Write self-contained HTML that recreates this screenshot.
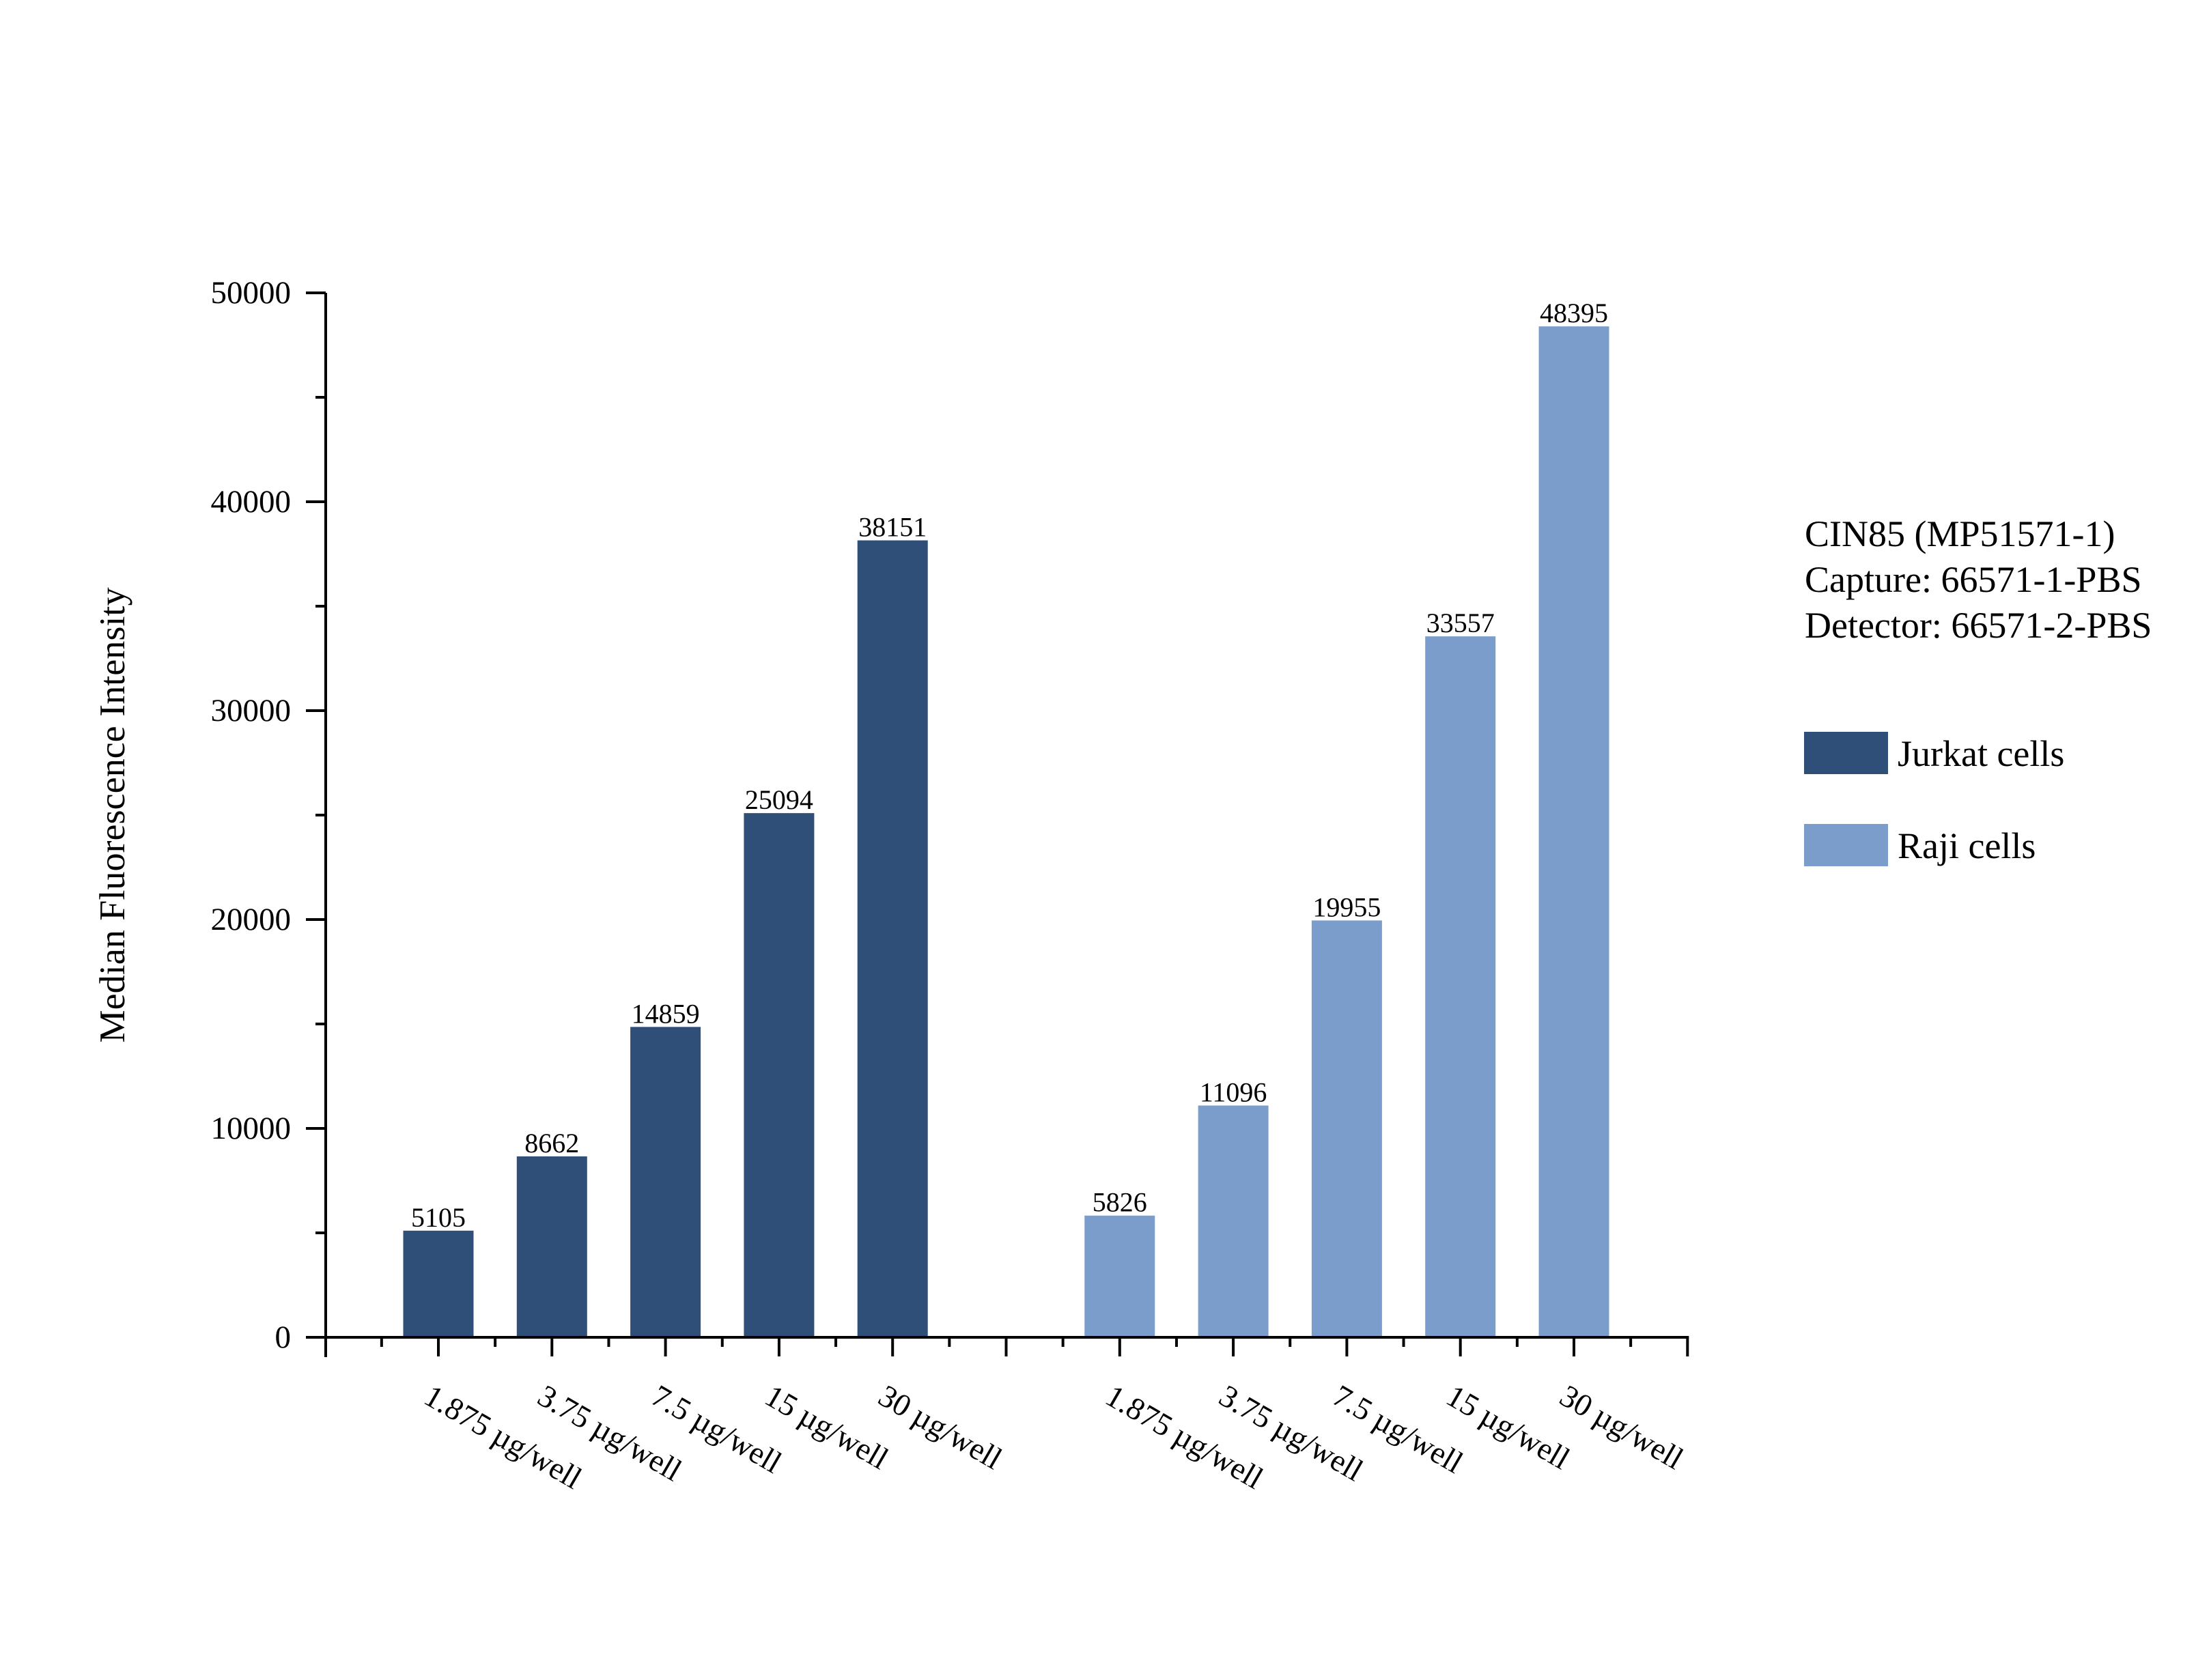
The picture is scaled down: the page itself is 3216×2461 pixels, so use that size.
<!DOCTYPE html>
<html><head><meta charset="utf-8"><style>
html,body{margin:0;padding:0;background:#fff;}
svg{display:block;font-family:"Liberation Serif",serif;}
</style></head><body>
<svg id="chart" width="3216" height="2461" viewBox="0 0 3216 2461" xmlns="http://www.w3.org/2000/svg">
<rect width="3216" height="2461" fill="#fff"/>
<g id="plot"></g>
<text x="0" y="0" transform="translate(182,1194) rotate(-90)" text-anchor="middle" font-size="53" textLength="667" lengthAdjust="spacingAndGlyphs">Median Fluorescence Intensity</text>
<g font-size="54">
<text x="2643" y="800">CIN85 (MP51571-1)</text>
<text x="2643" y="867">Capture: 66571-1-PBS</text>
<text x="2643" y="934">Detector: 66571-2-PBS</text>
<rect x="2642" y="1072" width="123" height="62" fill="#2F4F79"/>
<text x="2779" y="1122">Jurkat cells</text>
<rect x="2642" y="1207" width="123" height="62" fill="#7B9DCB"/>
<text x="2779" y="1257">Raji cells</text>
</g>
</svg>
<script>
const categories = ["1.875 µg/well","3.75 µg/well","7.5 µg/well","15 µg/well","30 µg/well"];
const jurkatValues = [5105, 8662, 14859, 25094, 38151];
const rajiValues = [5826, 11096, 19955, 33557, 48395];
const yTicks = [0, 10000, 20000, 30000, 40000, 50000];

const NS = "http://www.w3.org/2000/svg";
const plot = document.getElementById('plot');
const y0 = 1959, y1 = 429, yMax = 50000;
const yScale = v => y0 - (v / yMax) * (y0 - y1);
const xScale = i => 642 + i * 166.3; // slot index
const axisX = 477, barW = 103;
const axisEnd = xScale(11);

function mk(tag, attrs) {
  const el = document.createElementNS(NS, tag);
  for (const k in attrs) el.setAttribute(k, attrs[k]);
  plot.appendChild(el);
  return el;
}

function drawSeries(vals, offset, color, key) {
  vals.forEach((v, i) => {
    const cx = xScale(i + offset);
    const r = mk('rect', {x: cx - barW/2, y: yScale(v), width: barW, height: y0 - yScale(v), fill: color});
    
    
    const t = mk('text', {x: cx, y: yScale(v) - 6, 'text-anchor': 'middle', 'font-size': 40});
    t.textContent = v;
    
    
    const lx = cx - 24, ly = 2054;
    const xl = mk('text', {x: lx, y: ly, transform: 'rotate(30 ' + lx + ' ' + ly + ')', 'font-size': 46});
    xl.textContent = categories[i];
    
    
  });
}
drawSeries(jurkatValues, 0, '#2F4F79', 'jurkat');
drawSeries(rajiValues, 6, '#7B9DCB', 'raji');

// y axis
const ya = mk('line', {x1: axisX, y1: y1, x2: axisX, y2: y0 + 29, stroke: '#000', 'stroke-width': 4});


yTicks.forEach(v => {
  const ty = yScale(v);
  const tk = mk('line', {x1: axisX - 29, y1: ty, x2: axisX, y2: ty, stroke: '#000', 'stroke-width': 4});
  
  
  const lb = mk('text', {x: 426, y: ty + 15, 'text-anchor': 'end', 'font-size': 47});
  lb.textContent = v;
  
  
  if (v < yMax) {
    const my = yScale(v + 5000);
    const mt = mk('line', {x1: axisX - 15, y1: my, x2: axisX, y2: my, stroke: '#000', 'stroke-width': 4});
    
    
  }
});
// x axis
const xa = mk('line', {x1: axisX - 2, y1: y0, x2: axisEnd + 2, y2: y0, stroke: '#000', 'stroke-width': 4});


for (let i = -1; i <= 11; i++) {
  const tx = i === -1 ? axisX : xScale(i);
  if (i > -1) {
    const t = mk('line', {x1: tx, y1: y0, x2: tx, y2: y0 + 28, stroke: '#000', 'stroke-width': 4});
    
    
  }
  if (i < 11) {
    const mx = xScale(i + 0.5);
    const m = mk('line', {x1: mx, y1: y0, x2: mx, y2: y0 + 14, stroke: '#000', 'stroke-width': 4});
    
    
  }
}
</script>
</body></html>
